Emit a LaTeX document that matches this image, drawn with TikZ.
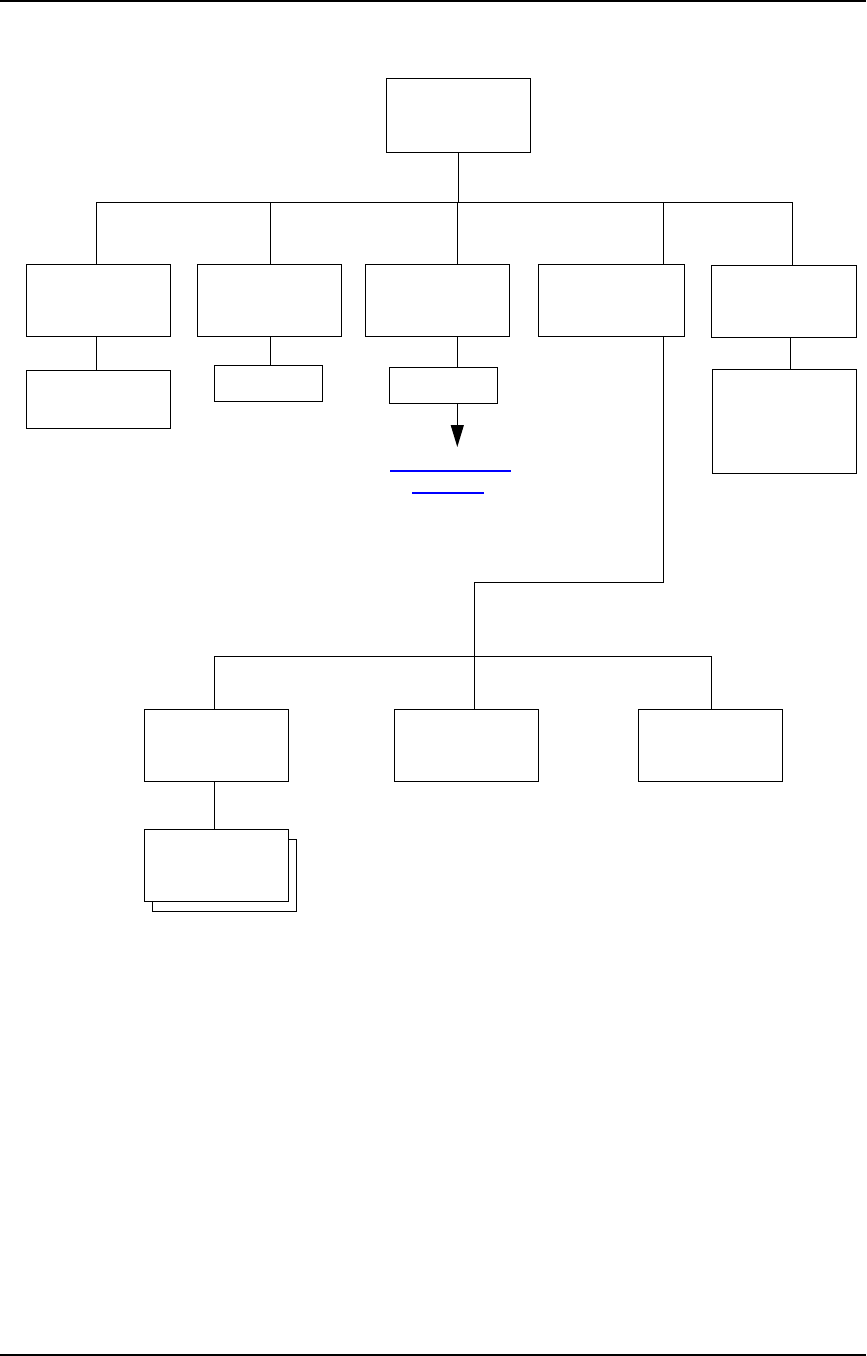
\documentclass[tikz,border=0pt]{standalone}
\usetikzlibrary{arrows.meta}
\begin{document}
\begin{tikzpicture}[x=1bp,y=-1bp,
  box/.style={draw=black, fill=white, line width=1.2bp, inner sep=0pt, minimum width=144bp, minimum height=72bp},
  conn/.style={draw=black, line width=1.2bp},
  rule/.style={draw=black, line width=2.2bp},
  link/.style={draw={rgb,255:red,0;green,0;blue,255}, line width=1.7bp}]
\useasboundingbox (0,0) rectangle (866,1356);
\draw[rule] (0,1.1) -- (866,1.1);
\draw[rule] (0,1354.9) -- (866,1354.9);
% top
\node[box, minimum height=74bp] (top) at (458.3,115.3) {};
% row 1
\node[box] (A) at (98.5,300.3) {};
\node[box] (B) at (269.5,300.3) {};
\node[box] (C) at (437.3,300.3) {};
\node[box, minimum width=146bp] (D) at (611.3,300.3) {};
\node[box, minimum width=145bp] (E) at (783.8,301.3) {};
% row 2
\node[box, minimum height=58bp] (A2) at (98.5,399.3) {};
\node[box, minimum width=108bp, minimum height=36bp] (B2) at (268.5,383.2) {};
\node[box, minimum width=108bp, minimum height=36bp] (C2) at (443.3,385.3) {};
\node[box, minimum height=104bp] (E2) at (784.3,421.3) {};
% lower row
\node[box] (L1) at (216.5,745.3) {};
\node[box] (L2) at (466.5,745.3) {};
\node[box] (L3) at (710.3,745.3) {};
\node[box] (S2) at (224.3,875.3) {};
\node[box] (S1) at (216.5,865.3) {};
% bus coordinates
\coordinate (bA) at (96.3,202.3);
\coordinate (bB) at (270.3,202.3);
\coordinate (bC) at (457.3,202.3);
\coordinate (bD) at (663.3,202.3);
\coordinate (bE) at (792.3,202.3);
\coordinate (eE) at (790.3,350);
\coordinate (elbowR) at (663.3,582.3);
\coordinate (elbowL) at (474.3,582.3);
\coordinate (b2L) at (214.3,656.3);
\coordinate (b2M) at (474.3,656.3);
\coordinate (b2R) at (711.3,656.3);
\coordinate (tip) at (457.3,447);
% connectors top level
\draw[conn] (top.south) -- (top.south |- bC);
\draw[conn] (bA) -- (bE);
\draw[conn] (bA) -- (bA |- A.north);
\draw[conn] (bB) -- (bB |- B.north);
\draw[conn] (bC) -- (bC |- C.north);
\draw[conn] (bD) -- (bD |- D.north);
\draw[conn] (bE) -- (bE |- E.north);
% children
\draw[conn] (bA |- A.south) -- (bA |- A2.north);
\draw[conn] (bB |- B.south) -- (bB |- B2.north);
\draw[conn] (bC |- C.south) -- (bC |- C2.north);
\draw[conn] (eE |- E.south) -- (eE |- E2.north);
\draw[conn, -{Triangle[width=13bp,length=22bp]}] (bC |- C2.south) -- (tip);
% lower tree
\draw[conn] (bD |- D.south) -- (elbowR) -- (elbowL) -- (b2M);
\draw[conn] (b2L) -- (b2R);
\draw[conn] (b2L) -- (b2L |- L1.north);
\draw[conn] (b2M) -- (b2M |- L2.north);
\draw[conn] (b2R) -- (b2R |- L3.north);
\draw[conn] (b2L |- L1.south) -- (b2L |- S1.north);
% link underlines
\coordinate (u1a) at (390,470.7);
\coordinate (u1b) at (511,470.7);
\coordinate (u2a) at (412,492.7);
\coordinate (u2b) at (484,492.7);
\draw[link] (u1a) -- (u1b);
\draw[link] (u2a) -- (u2b);
\end{tikzpicture}
\end{document}
